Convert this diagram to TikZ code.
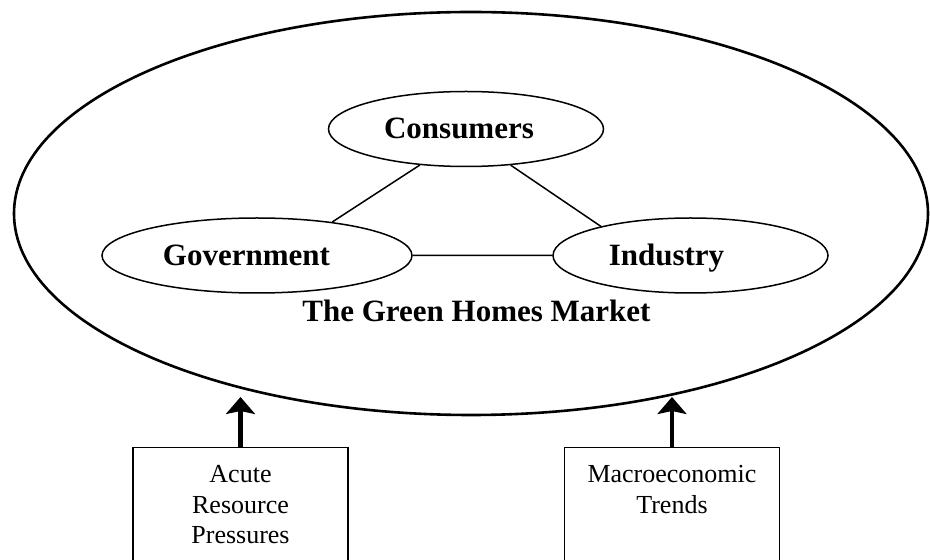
\documentclass[tikz,border=0pt]{standalone}
\usepackage{fontspec}
\setmainfont{Liberation Serif}
\usetikzlibrary{shapes.geometric,arrows.meta}
\tikzset{
  party/.style={ellipse,draw,line width=1.5pt,inner sep=0pt,minimum height=75pt,text height=20pt,text depth=0pt,font=\fontsize{31}{36}\selectfont\bfseries},
  driver/.style={draw,line width=1.5pt,anchor=north,inner sep=0pt,text width=215pt,align=center,text height=35pt,text depth=120pt,font=\fontsize{26}{30.5}\selectfont},
  push/.style={line width=4.5pt,-{Stealth[length=17pt,width=29pt,inset=3pt]}},
}
\begin{document}
\begin{tikzpicture}[x=1pt,y=1pt]
\useasboundingbox (0,0) rectangle (930,560);
\clip (0,0) rectangle (930,560);
% the market and its three players
\node[ellipse,draw,line width=2.6pt,inner sep=0pt,minimum width=914pt,minimum height=403pt] (market) at (471,346.5) {};
\node[party,minimum width=275pt] (cons) at (466,431) {Consumers\hspace*{14pt}};
\node[party,minimum width=310pt] (gov) at (257,304.5) {Government\hspace*{21pt}};
\node[party,minimum width=275pt] (ind) at (690.5,304.5) {Industry\hspace*{48pt}};
\node[font=\fontsize{31}{36}\selectfont\bfseries,anchor=base] (mkt) at (476.5,238) {The Green Homes Market};
\draw[line width=1.5pt] (cons.218) -- (gov.24) (cons.321) -- (ind.162) (gov.east) -- (ind.west);
% outside drivers
\node[driver] (acute) at (240.5,113) {Acute\\Resource\\Pressures};
\node[driver] (macro) at (672,113) {Macroeconomic\\Trends};
\coordinate (tipA) at ([yshift=50pt]acute.north);
\coordinate (tipM) at ([yshift=50pt]macro.north);
\draw[push] (acute.north) -- (tipA);
\draw[push] (macro.north) -- (tipM);
\end{tikzpicture}
\end{document}
